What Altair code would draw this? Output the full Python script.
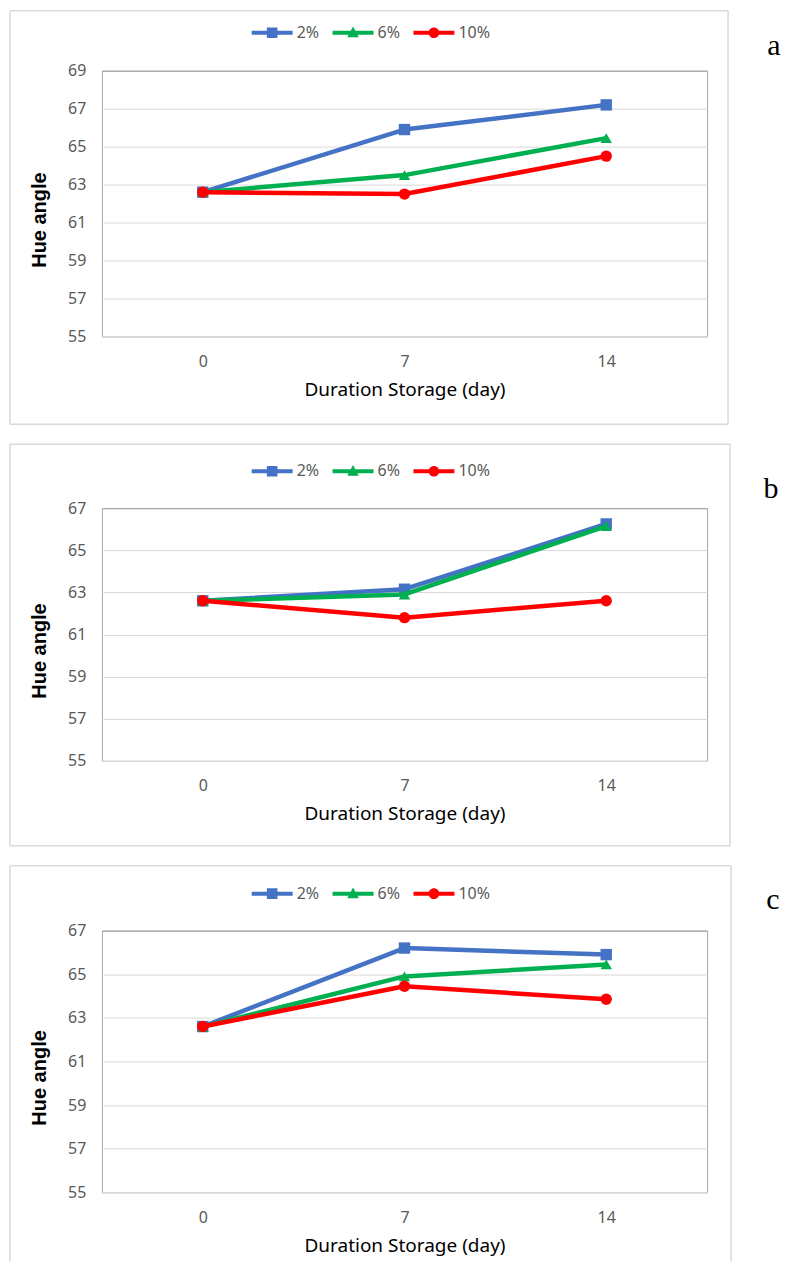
import altair as alt
import pandas as pd

# ---------------- data ----------------
days = ["0", "7", "14"]
series = ["2%", "6%", "10%"]

a_2 = [62.6, 65.9, 67.2]
a_6 = [62.6, 63.5, 65.45]
a_10 = [62.6, 62.5, 64.5]

b_2 = [62.6, 63.15, 66.25]
b_6 = [62.6, 62.9, 66.15]
b_10 = [62.6, 61.8, 62.6]

c_2 = [62.6, 66.2, 65.9]
c_6 = [62.6, 64.9, 65.45]
c_10 = [62.6, 64.45, 63.85]

y_max = [69, 67, 67]
panel_labels = ["a", "b", "c"]

# ---------------- styles ----------------
colors = ["#4472C4", "#00B050", "#FF0000"]
shapes = ["square", "triangle-up", "circle"]
# legend glyph: line segment with the marker in its middle (unit = 10 px)
LINE = "M-3.1,-0.2H1V0.2H-3.1Z "
legend_paths = [
    LINE + "M-1.58,-0.53H-0.52V0.53H-1.58Z",
    LINE + "M-1.05,-0.62L-0.47,0.45H-1.63Z",
    LINE + "M-1.58,0A0.53,0.53 0 1,1 -0.52,0A0.53,0.53 0 1,1 -1.58,0Z",
]
TICK_FONT = "Noto Sans"
GRID = "#D9D9D9"
BORDER = "#A6A6A6"
BOX = "#D9D9D9"
W = 606


def box_layer(x1, x2, y1, y2, bottom=True):
    one = pd.DataFrame({"k": [0]})
    base = alt.Chart(one)
    st = dict(color=BOX, strokeWidth=1.5)
    out = [
        base.mark_rule(**st).encode(x=alt.value(x1), x2=alt.value(x2), y=alt.value(y1)),
        base.mark_rule(**st).encode(x=alt.value(x1), y=alt.value(y1), y2=alt.value(y2)),
        base.mark_rule(**st).encode(x=alt.value(x2), y=alt.value(y1), y2=alt.value(y2)),
    ]
    if bottom:
        out.append(base.mark_rule(**st).encode(x=alt.value(x1), x2=alt.value(x2), y=alt.value(y2)))
    return out


def panel(vals, label, ymax, h, box, label_xy, legend_y, bottom=True):
    rows = []
    for s, v in zip(series, vals):
        for d, yv in zip(days, v):
            rows.append({"day": d, "series": s, "hue": yv})
    df = pd.DataFrame(rows)
    ticks = list(range(55, ymax + 1, 2))

    x = alt.X(
        "day:O",
        sort=days,
        scale=alt.Scale(type="point", padding=0.5),
        axis=alt.Axis(
            title="Duration Storage (day)",
            labelAngle=0,
            labelFont=TICK_FONT,
            labelFontSize=16,
            labelColor="#595959",
            labelPadding=17,
            ticks=False,
            grid=False,
            domainColor=GRID,
            domainWidth=1,
            titleFont=TICK_FONT,
            titleFontSize=19,
            titleFontWeight="normal",
            titleColor="#000000",
            titleY=44,
        ),
    )
    y = alt.Y(
        "hue:Q",
        scale=alt.Scale(domain=[55, ymax], nice=False, zero=False),
        axis=alt.Axis(
            values=ticks,
            title="Hue angle",
            labelFont=TICK_FONT,
            labelFontSize=16,
            labelColor="#595959",
            labelPadding=16,
            ticks=False,
            domain=False,
            grid=True,
            gridColor=alt.condition(f"datum.value == {ymax}", alt.value(BORDER), alt.value(GRID)),
            gridWidth=1,
            titleFont="Liberation Sans",
            titleFontSize=20,
            titleFontWeight="bold",
            titleColor="#000000",
            titleX=-62,
            titleY=h / 2 + 16,
            titleBaseline="middle",
        ),
    )

    layers = box_layer(*box, bottom=bottom)
    base = alt.Chart(df)
    for s, c, sh in zip(series, colors, shapes):
        f = base.transform_filter(alt.datum.series == s)
        layers.append(
            f.mark_line(color=c, strokeWidth=4.5, strokeJoin="round", strokeCap="round").encode(x=x, y=y)
        )
        layers.append(
            f.mark_point(shape=sh, filled=True, color=c, size=130, opacity=1).encode(x=x, y=y)
        )

    leg = alt.Legend(
        title=None,
        orient="none",
        legendX=171,
        legendY=legend_y,
        direction="horizontal",
        symbolSize=400,
        symbolStrokeWidth=0,
        symbolOpacity=1,
        labelFont=TICK_FONT,
        labelFontSize=16,
        labelColor="#595959",
        labelOffset=4,
        columnPadding=13,
        padding=0,
    )
    legend_layer = alt.Chart(pd.DataFrame({"series": series})).mark_point(
        filled=True, opacity=1, size=400, clip=True
    ).encode(
        x=alt.value(-3000),
        y=alt.value(-3000),
        color=alt.Color("series:N", scale=alt.Scale(domain=series, range=colors), legend=leg),
        shape=alt.Shape("series:N", scale=alt.Scale(domain=series, range=legend_paths), legend=leg),
    )
    layers.append(legend_layer)

    txt = alt.Chart(pd.DataFrame({"t": [label]})).mark_text(
        font="Liberation Serif", fontSize=30, align="center", baseline="alphabetic", color="#000000"
    ).encode(text="t:N", x=alt.value(label_xy[0]), y=alt.value(label_xy[1]))
    layers.append(txt)

    return alt.layer(*layers).properties(width=W, height=h)


pa = panel([a_2, a_6, a_10], panel_labels[0], y_max[0], 266, (-92, 627, -60, 354), (673, -16), -48)
pb = panel([b_2, b_6, b_10], panel_labels[1], y_max[1], 253, (-92, 629, -64, 338), (670, -10), -47)
pc = panel([c_2, c_6, c_10], panel_labels[2], y_max[2], 262, (-92, 630, -65, 331), (672, -22), -47,
           bottom=False)

chart = (
    alt.vconcat(pa, pb, pc, spacing=16)
    .resolve_scale(color="independent", shape="independent")
    .resolve_legend(color="independent", shape="independent")
    .properties(padding=0, background="white")
    .configure_view(stroke=BORDER, strokeWidth=1)
)

chart.save("out.html", embed_options={"renderer": "svg", "actions": False})
